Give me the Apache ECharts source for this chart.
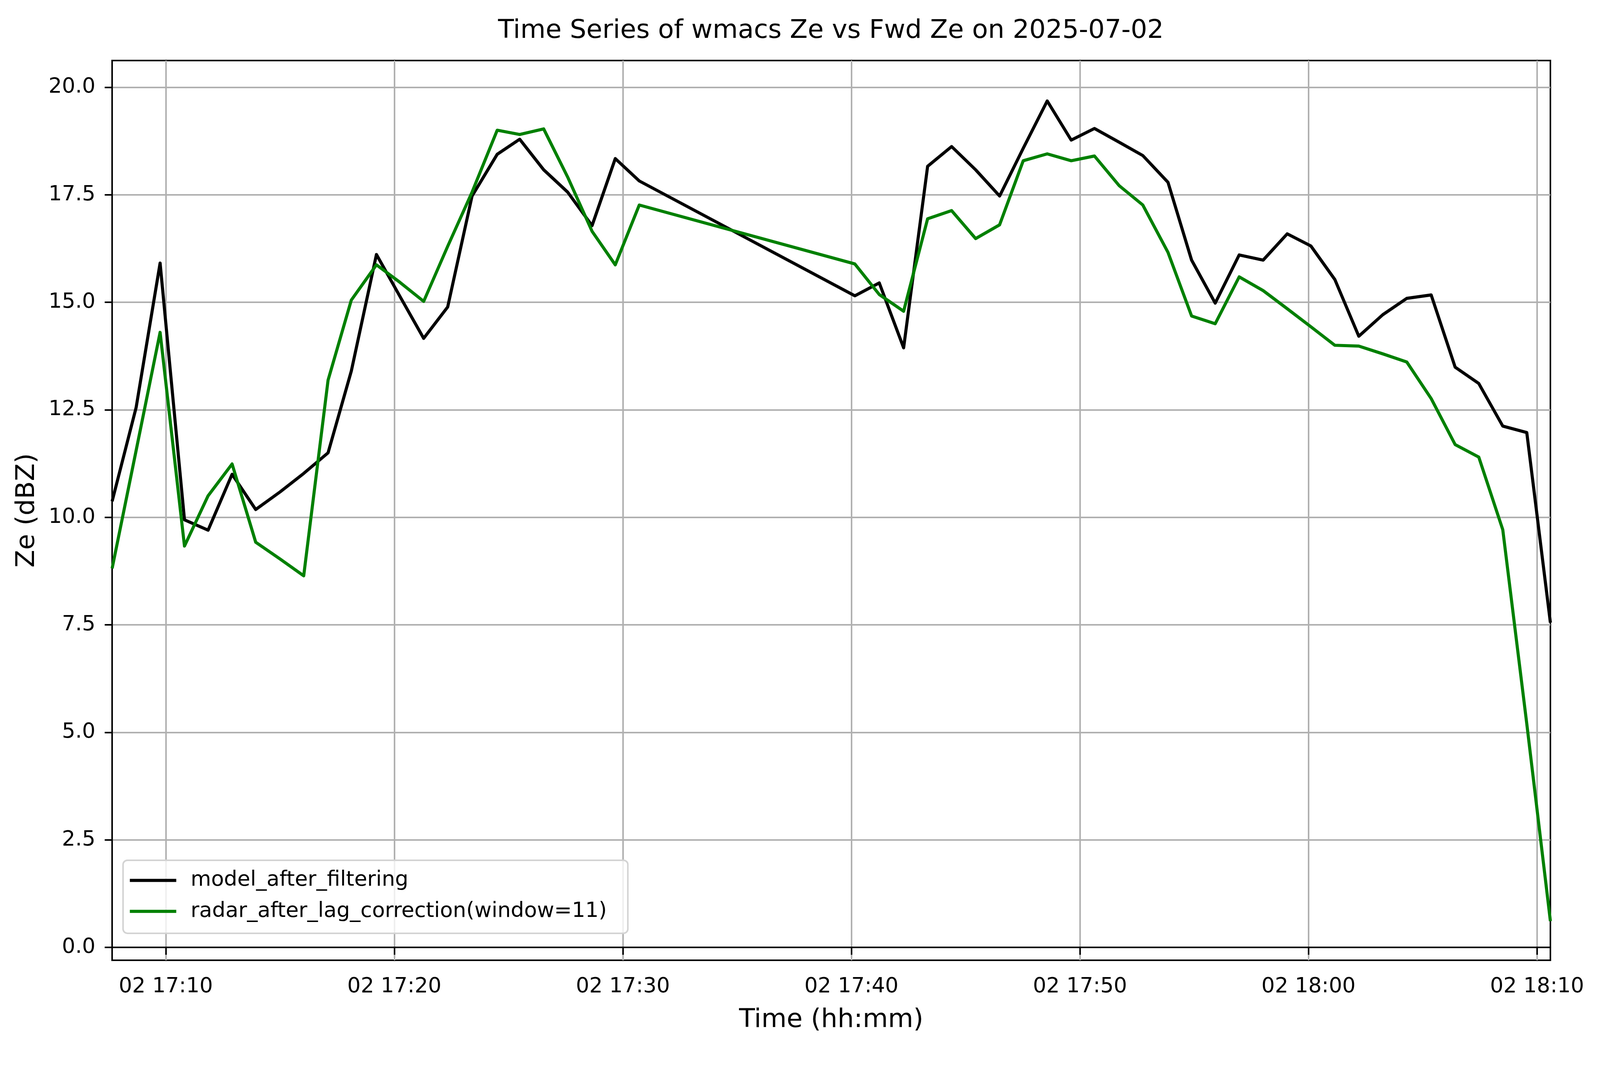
<!DOCTYPE html>
<html>
<head>
<meta charset="utf-8">
<title>Time Series of wmacs Ze vs Fwd Ze</title>
<script src="https://cdn.jsdelivr.net/npm/echarts@6/dist/echarts.min.js"></script>
<style>
    html, body { margin: 0; padding: 0; background: #ffffff; overflow: hidden; width: 100%; height: 100%; }
    #main { position: fixed; left: 0; top: 0; width: 100vw; height: 100vh; }
</style>
</head>
<body>
<div id="main"></div>
<script>
// 측정 시각 (2025-07-02)
var Times = [
    '17:07:39', '17:08:42', '17:09:45', '17:10:49', '17:11:51', '17:12:54', '17:13:56', '17:15:00',
    '17:16:02', '17:17:06', '17:18:07', '17:19:13', '17:20:15', '17:21:17', '17:22:20', '17:23:24',
    '17:24:30', '17:25:29', '17:26:32', '17:27:35', '17:28:39', '17:29:40', '17:30:43',
    '17:40:09', '17:41:13', '17:42:17', '17:43:20', '17:44:23', '17:45:26', '17:46:29', '17:47:31',
    '17:48:34', '17:49:37', '17:50:38',
    '17:51:43', '17:52:45', '17:53:51', '17:54:53', '17:55:55', '17:56:58', '17:58:01', '17:59:04',
    '18:00:06', '18:01:09', '18:02:12', '18:03:15', '18:04:18', '18:05:22', '18:06:25', '18:07:27',
    '18:08:30', '18:09:33', '18:10:35'
];

var Model = [
    10.37, 12.55, 15.91, 9.94, 9.70, 11.00, 10.18, 10.59,
    11.02, 11.50, 13.40, 16.11, 15.13, 14.16, 14.89, 17.47,
    18.44, 18.79, 18.08, 17.56, 16.78, 18.34, 17.82,
    15.15, 15.45, 13.94, 18.16, 18.62, 18.08, 17.47, 18.58,
    19.68, 18.77, 19.04,
    18.72, 18.41, 17.79, 15.98, 14.98, 16.10, 15.98, 16.59,
    16.31, 15.53, 14.21, 14.71, 15.09, 15.17, 13.49, 13.11,
    12.12, 11.97, 7.55
];

var Radar = [
    8.81, 11.55, 14.30, 9.33, 10.50, 11.24, 9.42, 9.03,
    8.64, 13.19, 15.05, 15.87, 15.46, 15.02, 16.30, 17.56,
    19.00, 18.90, 19.03, 17.91, 16.65, 15.87, 17.26,
    15.89, 15.18, 14.79, 16.94, 17.13, 16.48, 16.80, 18.29,
    18.45, 18.29, 18.40,
    17.71, 17.26, 16.16, 14.68, 14.50, 15.59, 15.27, 14.85,
    14.43, 14.00, 13.98, 13.80, 13.61, 12.76, 11.69, 11.40,
    9.71, 5.20, 0.61
];

var Y_ticks = [0, 2.5, 5, 7.5, 10, 12.5, 15, 17.5, 20];
var X_ticks = ['17:10', '17:20', '17:30', '17:40', '17:50', '18:00', '18:10'];

var FONT = 'DejaVu Sans';

// 기준 크기 5171x2740 -> 실제 창 크기 비율 (창이 기준 크기면 1)
var W = 5171, H = 2740;
var main = document.getElementById('main');
var vw = window.innerWidth || W;
var vh = window.innerHeight || H;
var sx = vw / W;
var sy = vh / H;
var fs = Math.min(sx, sy);

function px(v) { return Math.round(v * sx); }
function py(v) { return Math.round(v * sy); }
function pf(v) { return v * fs; }

// 시각 문자열 -> 자정 이후 초
function toSec(hms) {
    var p = hms.split(':');
    return (+p[0]) * 3600 + (+p[1]) * 60 + (p.length > 2 ? +p[2] : 0);
}

function pad2(n) {
    return (n < 10 ? '0' : '') + n;
}

function makeSeries(values) {
    var arr = [];
    for (var i = 0; i < Times.length; i++) {
        arr.push([toSec(Times[i]), values[i]]);
    }
    return arr;
}

var xTickSec = X_ticks.map(toSec);

var chart = echarts.init(main, null, { renderer: 'canvas', width: vw, height: vh });

var option = {
    animation: false,
    backgroundColor: '#ffffff',
    title: {
        text: 'Time Series of wmacs Ze vs Fwd Ze on 2025-07-02',
        left: px(2685),
        top: py(46),
        textAlign: 'center',
        padding: 0,
        textStyle: {
            fontFamily: FONT,
            fontSize: pf(84),
            fontWeight: 'normal',
            color: '#000000'
        }
    },
    grid: {
        left: px(362),
        right: px(160),
        top: py(155),
        bottom: py(281),
        show: true,
        borderColor: '#000000',
        borderWidth: pf(5),
        backgroundColor: 'transparent'
    },
    legend: {
        orient: 'vertical',
        left: px(398),
        top: py(2203),
        padding: [pf(25), pf(68), pf(31), pf(22)],
        itemGap: pf(20),
        itemWidth: pf(150),
        itemHeight: pf(10),
        icon: 'rect',
        backgroundColor: 'rgba(255,255,255,0.8)',
        borderColor: '#d3d3d3',
        borderWidth: pf(5),
        borderRadius: pf(14),
        data: ['model_after_filtering', 'radar_after_lag_correction(window=11)'],
        textStyle: {
            fontFamily: FONT,
            fontSize: pf(68),
            lineHeight: pf(80),
            color: '#000000',
            padding: [0, 0, 0, pf(40)]
        }
    },
    xAxis: {
        type: 'value',
        min: toSec(Times[0]),
        max: toSec(Times[Times.length - 1]),
        name: 'Time (hh:mm)',
        nameLocation: 'middle',
        nameGap: pf(152),
        nameTextStyle: {
            fontFamily: FONT,
            fontSize: pf(84),
            color: '#000000',
            verticalAlign: 'top'
        },
        axisLine: { show: true, lineStyle: { color: '#000000', width: pf(5) } },
        axisTick: {
            show: true,
            length: pf(24),
            customValues: xTickSec,
            lineStyle: { color: '#000000', width: pf(5) }
        },
        axisLabel: {
            customValues: xTickSec,
            margin: pf(52),
            fontFamily: FONT,
            fontSize: pf(68),
            color: '#000000',
            formatter: function (v) {
                var h = Math.floor(v / 3600);
                var m = Math.floor((v % 3600) / 60);
                return '02 ' + pad2(h) + ':' + pad2(m);
            }
        },
        splitLine: { show: true, lineStyle: { color: '#b0b0b0', width: pf(5) } }
    },
    yAxis: {
        type: 'value',
        min: -0.3,
        max: 20.62,
        name: 'Ze (dBZ)',
        nameLocation: 'middle',
        nameGap: pf(232),
        nameRotate: 90,
        nameTextStyle: {
            fontFamily: FONT,
            fontSize: pf(84),
            color: '#000000'
        },
        axisLine: { show: true, lineStyle: { color: '#000000', width: pf(5) } },
        axisTick: {
            show: true,
            length: pf(24),
            customValues: Y_ticks,
            lineStyle: { color: '#000000', width: pf(5) }
        },
        axisLabel: {
            customValues: Y_ticks,
            margin: pf(54),
            fontFamily: FONT,
            fontSize: pf(68),
            color: '#000000',
            formatter: function (v) {
                return v.toFixed(1);
            }
        },
        splitLine: { show: true, lineStyle: { color: '#b0b0b0', width: pf(5) } }
    },
    series: [
        {
            name: 'model_after_filtering',
            type: 'line',
            data: makeSeries(Model),
            showSymbol: false,
            symbol: 'none',
            color: '#000000',
            lineStyle: { color: '#000000', width: pf(10), join: 'round' },
            clip: true
        },
        {
            name: 'radar_after_lag_correction(window=11)',
            type: 'line',
            data: makeSeries(Radar),
            showSymbol: false,
            symbol: 'none',
            color: '#008000',
            lineStyle: { color: '#008000', width: pf(10), join: 'round' },
            clip: true
        }
    ]
};

chart.setOption(option);
</script>
</body>
</html>
